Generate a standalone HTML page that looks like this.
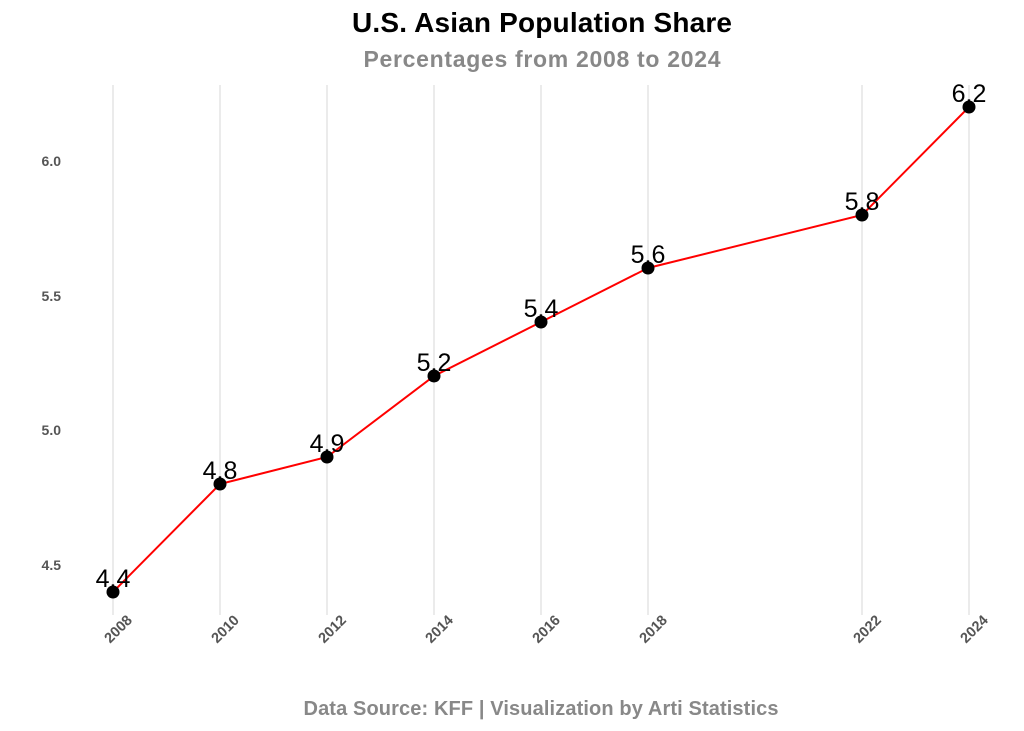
<!DOCTYPE html>
<html><head><style>body{margin:0;background:#fff}svg{display:block}</style></head><body>
<svg width="1024" height="731" xmlns="http://www.w3.org/2000/svg" font-family="Liberation Sans, sans-serif">
<rect width="1024" height="731" fill="#fff"/>
<text x="542" y="32" text-anchor="middle" font-size="28" font-weight="bold" textLength="380">U.S. Asian Population Share</text>
<text x="542" y="67" text-anchor="middle" font-size="23" font-weight="bold" fill="#888" textLength="357">Percentages from 2008 to 2024</text>
<g stroke="#ebebeb" stroke-width="2">
<line x1="113" y1="85" x2="113" y2="615"/><line x1="220" y1="85" x2="220" y2="615"/><line x1="327" y1="85" x2="327" y2="615"/><line x1="434" y1="85" x2="434" y2="615"/><line x1="541" y1="85" x2="541" y2="615"/><line x1="648" y1="85" x2="648" y2="615"/><line x1="862" y1="85" x2="862" y2="615"/><line x1="969" y1="85" x2="969" y2="615"/>
</g>
<g font-size="14" font-weight="bold" fill="#555" text-anchor="end">
<text x="61" y="166">6.0</text><text x="61" y="301">5.5</text><text x="61" y="435">5.0</text><text x="61" y="570">4.5</text>
</g>
<g font-size="14.5" font-weight="bold" fill="#555" text-anchor="end">
<text transform="translate(133,621) rotate(-45)">2008</text>
<text transform="translate(240,621) rotate(-45)">2010</text>
<text transform="translate(347,621) rotate(-45)">2012</text>
<text transform="translate(454,621) rotate(-45)">2014</text>
<text transform="translate(561,621) rotate(-45)">2016</text>
<text transform="translate(668,621) rotate(-45)">2018</text>
<text transform="translate(882,621) rotate(-45)">2022</text>
<text transform="translate(989,621) rotate(-45)">2024</text>
</g>
<polyline fill="none" stroke="#f00" stroke-width="2" points="113,592 220,484 327,457 434,376 541,322 648,268 862,215 969,107"/>
<g fill="#000">
<circle cx="113" cy="592" r="6.5"/><circle cx="220" cy="484" r="6.5"/><circle cx="327" cy="457" r="6.5"/><circle cx="434" cy="376" r="6.5"/><circle cx="541" cy="322" r="6.5"/><circle cx="648" cy="268" r="6.5"/><circle cx="862" cy="215" r="6.5"/><circle cx="969" cy="107" r="6.5"/>
</g>
<g font-size="25" text-anchor="middle">
<text x="113" y="587">4.4</text><text x="220" y="479">4.8</text><text x="327" y="452">4.9</text><text x="434" y="371">5.2</text><text x="541" y="317">5.4</text><text x="648" y="263">5.6</text><text x="862" y="210">5.8</text><text x="969" y="102">6.2</text>
</g>
<text x="541" y="715" text-anchor="middle" font-size="20" font-weight="bold" fill="#888" textLength="475">Data Source: KFF | Visualization by Arti Statistics</text>
</svg>
</body></html>
